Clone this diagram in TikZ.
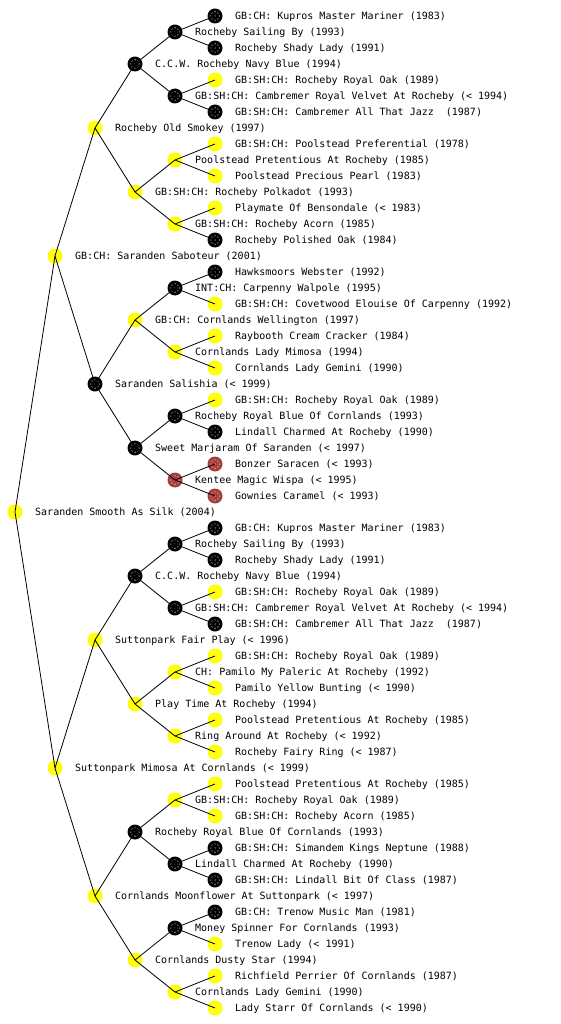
\documentclass[tikz,border=0pt]{standalone}
\usepackage{fontspec}
\newfontfamily\pedfont{DejaVu Sans Mono}
\definecolor{dogyellow}{RGB}{255,255,0}
\definecolor{dogbrown}{RGB}{165,62,60}
\tikzset{
  dog/.style={circle, minimum size=15pt, inner sep=0pt, fill=#1,
    path picture={
      \foreach \a in {0,45,...,315}
        \fill[white] (path picture bounding box.center) ++(\a:4.2pt) circle (0.55pt);
      \fill[white] (path picture bounding box.center) circle (0.55pt);
    }},
  lab/.style={anchor=west, font=\pedfont\fontsize{10pt}{12pt}\selectfont, inner sep=0pt,
    text height=7.3pt, text depth=0pt},
  link/.style={draw=black, line width=0.8pt}
}
\newcommand\dognode[5]{%
  \node[dog=#4] (#1) at (#2,#3) {};
  \node[lab] (#1-t) at (#2+20,#3) {#5};
}
\begin{document}
\begin{tikzpicture}[x=1pt,y=-1pt]
\useasboundingbox (0,0) rectangle (560,1024);
% level 0
\dognode{r}{15}{512}{dogyellow}{Saranden Smooth As Silk (2004)}
% level 1
\dognode{a1}{55}{256}{dogyellow}{GB:CH: Saranden Saboteur (2001)}
\dognode{a2}{55}{768}{dogyellow}{Suttonpark Mimosa At Cornlands (< 1999)}
% level 2
\dognode{b1}{95}{128}{dogyellow}{Rocheby Old Smokey (1997)}
\dognode{b2}{95}{384}{black}{Saranden Salishia (< 1999)}
\dognode{b3}{95}{640}{dogyellow}{Suttonpark Fair Play (< 1996)}
\dognode{b4}{95}{896}{dogyellow}{Cornlands Moonflower At Suttonpark (< 1997)}
% level 3
\dognode{c1}{135}{64}{black}{C.C.W. Rocheby Navy Blue (1994)}
\dognode{c2}{135}{192}{dogyellow}{GB:SH:CH: Rocheby Polkadot (1993)}
\dognode{c3}{135}{320}{dogyellow}{GB:CH: Cornlands Wellington (1997)}
\dognode{c4}{135}{448}{black}{Sweet Marjaram Of Saranden (< 1997)}
\dognode{c5}{135}{576}{black}{C.C.W. Rocheby Navy Blue (1994)}
\dognode{c6}{135}{704}{dogyellow}{Play Time At Rocheby (1994)}
\dognode{c7}{135}{832}{black}{Rocheby Royal Blue Of Cornlands (1993)}
\dognode{c8}{135}{960}{dogyellow}{Cornlands Dusty Star (1994)}
% level 4
\dognode{d1}{175}{32}{black}{Rocheby Sailing By (1993)}
\dognode{d2}{175}{96}{black}{GB:SH:CH: Cambremer Royal Velvet At Rocheby (< 1994)}
\dognode{d3}{175}{160}{dogyellow}{Poolstead Pretentious At Rocheby (1985)}
\dognode{d4}{175}{224}{dogyellow}{GB:SH:CH: Rocheby Acorn (1985)}
\dognode{d5}{175}{288}{black}{INT:CH: Carpenny Walpole (1995)}
\dognode{d6}{175}{352}{dogyellow}{Cornlands Lady Mimosa (1994)}
\dognode{d7}{175}{416}{black}{Rocheby Royal Blue Of Cornlands (1993)}
\dognode{d8}{175}{480}{dogbrown}{Kentee Magic Wispa (< 1995)}
\dognode{d9}{175}{544}{black}{Rocheby Sailing By (1993)}
\dognode{d10}{175}{608}{black}{GB:SH:CH: Cambremer Royal Velvet At Rocheby (< 1994)}
\dognode{d11}{175}{672}{dogyellow}{CH: Pamilo My Paleric At Rocheby (1992)}
\dognode{d12}{175}{736}{dogyellow}{Ring Around At Rocheby (< 1992)}
\dognode{d13}{175}{800}{dogyellow}{GB:SH:CH: Rocheby Royal Oak (1989)}
\dognode{d14}{175}{864}{black}{Lindall Charmed At Rocheby (1990)}
\dognode{d15}{175}{928}{black}{Money Spinner For Cornlands (1993)}
\dognode{d16}{175}{992}{dogyellow}{Cornlands Lady Gemini (1990)}
% level 5
\dognode{e1}{215}{16}{black}{GB:CH: Kupros Master Mariner (1983)}
\dognode{e2}{215}{48}{black}{Rocheby Shady Lady (1991)}
\dognode{e3}{215}{80}{dogyellow}{GB:SH:CH: Rocheby Royal Oak (1989)}
\dognode{e4}{215}{112}{black}{GB:SH:CH: Cambremer All That Jazz\ \ (1987)}
\dognode{e5}{215}{144}{dogyellow}{GB:SH:CH: Poolstead Preferential (1978)}
\dognode{e6}{215}{176}{dogyellow}{Poolstead Precious Pearl (1983)}
\dognode{e7}{215}{208}{dogyellow}{Playmate Of Bensondale (< 1983)}
\dognode{e8}{215}{240}{black}{Rocheby Polished Oak (1984)}
\dognode{e9}{215}{272}{black}{Hawksmoors Webster (1992)}
\dognode{e10}{215}{304}{dogyellow}{GB:SH:CH: Covetwood Elouise Of Carpenny (1992)}
\dognode{e11}{215}{336}{dogyellow}{Raybooth Cream Cracker (1984)}
\dognode{e12}{215}{368}{dogyellow}{Cornlands Lady Gemini (1990)}
\dognode{e13}{215}{400}{dogyellow}{GB:SH:CH: Rocheby Royal Oak (1989)}
\dognode{e14}{215}{432}{black}{Lindall Charmed At Rocheby (1990)}
\dognode{e15}{215}{464}{dogbrown}{Bonzer Saracen (< 1993)}
\dognode{e16}{215}{496}{dogbrown}{Gownies Caramel (< 1993)}
\dognode{e17}{215}{528}{black}{GB:CH: Kupros Master Mariner (1983)}
\dognode{e18}{215}{560}{black}{Rocheby Shady Lady (1991)}
\dognode{e19}{215}{592}{dogyellow}{GB:SH:CH: Rocheby Royal Oak (1989)}
\dognode{e20}{215}{624}{black}{GB:SH:CH: Cambremer All That Jazz\ \ (1987)}
\dognode{e21}{215}{656}{dogyellow}{GB:SH:CH: Rocheby Royal Oak (1989)}
\dognode{e22}{215}{688}{dogyellow}{Pamilo Yellow Bunting (< 1990)}
\dognode{e23}{215}{720}{dogyellow}{Poolstead Pretentious At Rocheby (1985)}
\dognode{e24}{215}{752}{dogyellow}{Rocheby Fairy Ring (< 1987)}
\dognode{e25}{215}{784}{dogyellow}{Poolstead Pretentious At Rocheby (1985)}
\dognode{e26}{215}{816}{dogyellow}{GB:SH:CH: Rocheby Acorn (1985)}
\dognode{e27}{215}{848}{black}{GB:SH:CH: Simandem Kings Neptune (1988)}
\dognode{e28}{215}{880}{black}{GB:SH:CH: Lindall Bit Of Class (1987)}
\dognode{e29}{215}{912}{black}{GB:CH: Trenow Music Man (1981)}
\dognode{e30}{215}{944}{dogyellow}{Trenow Lady (< 1991)}
\dognode{e31}{215}{976}{dogyellow}{Richfield Perrier Of Cornlands (1987)}
\dognode{e32}{215}{1008}{dogyellow}{Lady Starr Of Cornlands (< 1990)}
% connectors
\draw[link] (r.center) -- (a1.center) (r.center) -- (a2.center);
\foreach \i in {1,2}{\pgfmathtruncatemacro\j{2*\i-1}\pgfmathtruncatemacro\k{2*\i}
  \draw[link] (a\i.center) -- (b\j.center) (a\i.center) -- (b\k.center);}
\foreach \i in {1,...,4}{\pgfmathtruncatemacro\j{2*\i-1}\pgfmathtruncatemacro\k{2*\i}
  \draw[link] (b\i.center) -- (c\j.center) (b\i.center) -- (c\k.center);}
\foreach \i in {1,...,8}{\pgfmathtruncatemacro\j{2*\i-1}\pgfmathtruncatemacro\k{2*\i}
  \draw[link] (c\i.center) -- (d\j.center) (c\i.center) -- (d\k.center);}
\foreach \i in {1,...,16}{\pgfmathtruncatemacro\j{2*\i-1}\pgfmathtruncatemacro\k{2*\i}
  \draw[link] (d\i.center) -- (e\j.center) (d\i.center) -- (e\k.center);}
\end{tikzpicture}
\end{document}
